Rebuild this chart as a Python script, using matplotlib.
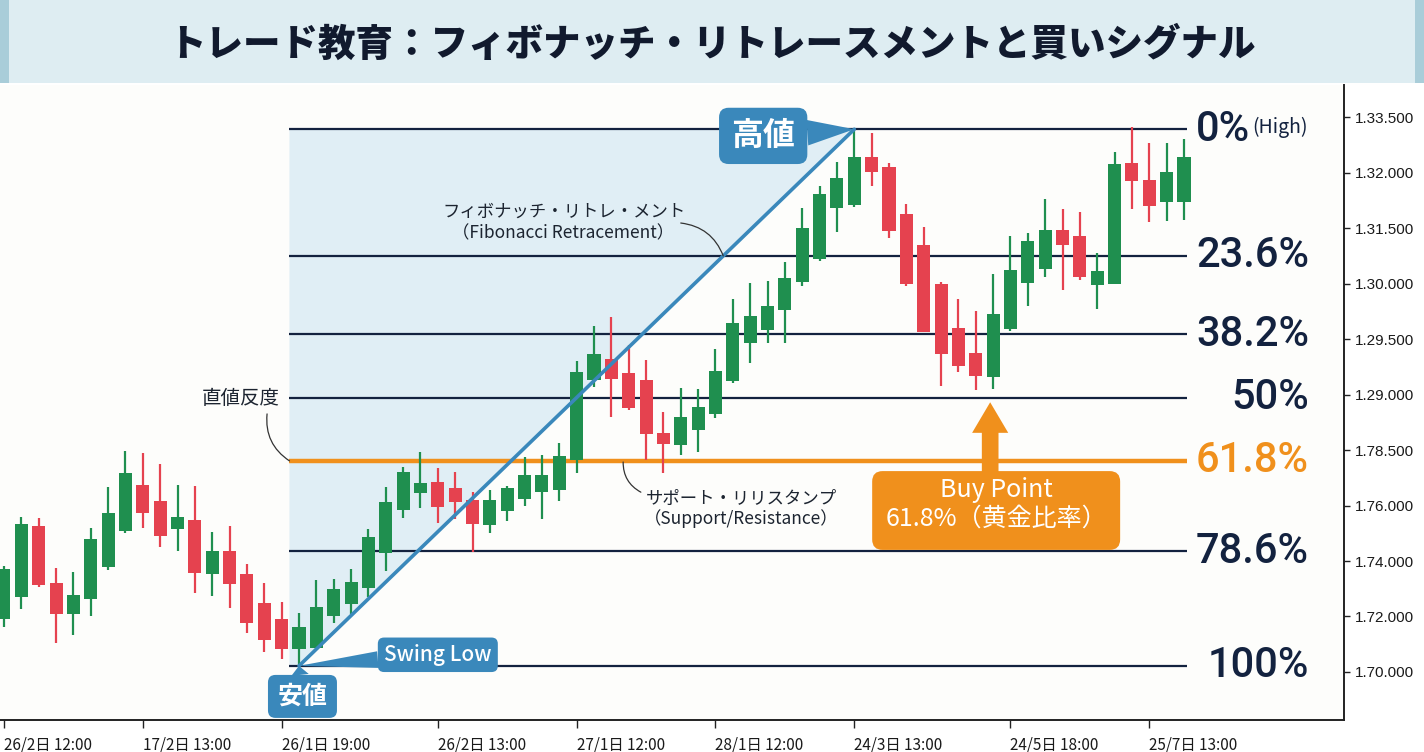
import numpy as np
import matplotlib
matplotlib.use("Agg")
import matplotlib.pyplot as plt
from matplotlib.patches import Polygon, Rectangle, FancyBboxPatch

plt.rcParams['font.family'] = ['Noto Sans CJK JP', 'DejaVu Sans']

# ---------------- data ----------------
title = "トレード教育：フィボナッチ・リトレースメントと買いシグナル"

opens = [0.96, 1.35, 2.63, 1.60, 1.05, 1.32, 1.89, 2.54, 3.37, 3.08,
         2.58, 2.74, 1.77, 2.18, 1.77, 1.24, 0.96, 0.41, 0.43, 1.01,
         1.23, 1.51, 2.14, 2.92, 3.23, 3.42, 3.32, 3.10, 2.65, 2.90,
         3.12, 3.24, 3.28, 3.82, 5.26, 5.64, 5.39, 5.26, 4.31, 4.09,
         4.36, 4.65, 5.24, 5.93, 6.16, 6.52, 7.03, 7.44, 8.36, 8.41,
         9.28, 9.10, 8.25, 7.69, 6.99, 6.20, 5.75, 5.32, 6.18, 7.01,
         7.26, 7.96, 7.86, 6.97, 6.99, 9.17, 8.87, 8.47, 8.47]
highs = [1.91, 2.79, 2.78, 1.87, 1.80, 2.60, 3.33, 3.98, 3.95, 3.75,
         3.37, 3.35, 2.52, 2.63, 1.95, 1.60, 1.26, 1.06, 1.66, 1.68,
         1.86, 2.58, 3.33, 3.69, 3.96, 3.68, 3.60, 3.24, 3.28, 3.35,
         3.87, 3.91, 4.13, 5.60, 6.23, 6.40, 5.89, 5.62, 4.69, 5.12,
         5.10, 5.82, 6.72, 7.01, 7.05, 7.39, 8.36, 8.76, 9.19, 9.78,
         9.71, 9.17, 8.43, 8.02, 7.03, 6.72, 6.51, 7.17, 7.86, 7.91,
         8.52, 8.34, 8.29, 7.55, 9.37, 9.82, 9.53, 9.53, 9.60]
lows = [0.81, 1.14, 1.53, 0.52, 0.67, 1.01, 1.84, 2.51, 2.60, 2.25,
        2.18, 1.42, 1.37, 1.15, 0.70, 0.36, 0.23, 0.11, 0.40, 0.88,
        1.05, 1.35, 1.82, 2.78, 2.96, 2.69, 2.76, 2.16, 2.51, 2.72,
        2.99, 2.76, 3.08, 3.59, 5.14, 4.60, 4.72, 3.82, 3.59, 3.91,
        3.96, 4.58, 5.21, 5.57, 5.93, 5.93, 6.96, 7.41, 7.93, 8.38,
        8.76, 7.82, 6.96, 6.13, 5.15, 5.41, 5.08, 5.10, 6.14, 6.60,
        7.12, 6.88, 7.06, 6.54, 6.99, 8.34, 8.11, 8.13, 8.14]
closes = [1.86, 2.67, 1.57, 1.05, 1.39, 2.40, 2.87, 3.59, 2.87, 2.45,
          2.79, 1.78, 2.18, 1.59, 0.88, 0.58, 0.41, 0.81, 1.17, 1.50,
          1.62, 2.43, 3.06, 3.60, 3.41, 2.97, 3.06, 2.67, 3.10, 3.32,
          3.55, 3.55, 3.89, 5.41, 5.73, 5.28, 4.76, 4.29, 4.11, 4.60,
          4.78, 5.42, 6.29, 6.41, 6.60, 7.10, 8.00, 8.61, 8.90, 9.28,
          9.01, 7.95, 6.99, 6.13, 5.73, 5.51, 5.33, 6.45, 7.24, 7.77,
          7.96, 7.69, 7.12, 7.23, 9.15, 8.85, 8.40, 9.01, 9.28]

swing_low_idx = 17
swing_high_idx = 49

ytick_labels = ["1.70.000", "1.72.000", "1.74.000", "1.76.000", "1.78.500",
                "1.29.000", "1.29.500", "1.30.000", "1.31.500", "1.32.000",
                "1.33.500"]
xtick_labels = ["26/2日 12:00", "17/2日 13:00", "26/1日 19:00", "26/2日 13:00",
                "27/1日 12:00", "28/1日 12:00", "24/3日 13:00", "24/5日 18:00",
                "25/7日 13:00"]
xtick_idx = [0, 8, 16, 25, 33, 41, 49, 58, 66]

fib_ratios = [0.0, 0.236, 0.382, 0.5, 0.618, 0.786, 1.0]
fib_labels = ["0%", "23.6%", "38.2%", "50%", "61.8%", "78.6%", "100%"]

# ---------------- styles ----------------
GREEN = "#1f8f4f"
RED = "#e5424f"
NAVY = "#13223f"
ORANGE = "#f0901c"
BLUE = "#3a88bb"
SHADE = "#e0eef5"

o = np.array(opens); h = np.array(highs); l = np.array(lows); c = np.array(closes)
x = np.arange(len(o))

fig = plt.figure(figsize=(14.24, 7.52), dpi=100)
fig.patch.set_facecolor("white")

# title band
fig.patches.append(Rectangle((0, 1 - 83 / 752), 1, 83 / 752, transform=fig.transFigure,
                             fc="#deedf2", ec="none", zorder=0))
fig.patches.append(Rectangle((0, 1 - 83 / 752), 9 / 1424, 83 / 752, transform=fig.transFigure,
                             fc="#a9cdd9", ec="none", zorder=0))
fig.patches.append(Rectangle((1 - 9 / 1424, 1 - 83 / 752), 9 / 1424, 83 / 752,
                             transform=fig.transFigure, fc="#a9cdd9", ec="none", zorder=0))
fig.text(0.5, 1 - 45 / 752, title, ha="center", va="center", fontsize=27,
         fontweight="heavy", color="#111a2e")

ax = fig.add_axes([0, 1 - 720 / 752, 1344 / 1424, (720 - 85) / 752])
ax.set_facecolor("#fdfdfb")
ax.set_xlim(-0.23, 77.22)
ax.set_ylim(-0.865, 10.577)

low = lows[swing_low_idx]
high = highs[swing_high_idx]
levels = [high - r * (high - low) for r in fib_ratios]
fx0 = swing_low_idx - 0.55
fx1 = len(o) - 1 + 0.2

# shaded retracement area above the swing line
ax.add_patch(Polygon([(fx0, low), (swing_low_idx, low), (swing_high_idx, high), (fx0, high)],
                     closed=True, fc=SHADE, ec="none", zorder=0.5))

# fib lines
for r, lv in zip(fib_ratios, levels):
    if r == 0.618:
        ax.hlines(lv, fx0, fx1, color=ORANGE, lw=3.2, zorder=1.5)
    else:
        ax.hlines(lv, fx0, fx1, color=NAVY, lw=1.6, zorder=1.5)

# candles
cols = np.where(c >= o, GREEN, RED)
ax.vlines(x, l, h, colors=cols, lw=1.6, zorder=3)
ax.bar(x, np.abs(c - o), bottom=np.minimum(o, c), width=0.75, color=cols, zorder=4)

# swing line
ax.plot([swing_low_idx, swing_high_idx], [low, high], color=BLUE, lw=2.6, zorder=5,
        solid_capstyle="round")

# fib labels
num_font = ["Roboto", "DejaVu Sans"]
for r, lv, lab in zip(fib_ratios, levels, fib_labels):
    col = ORANGE if r == 0.618 else NAVY
    if r == 0.0:
        ax.text(71.8, lv, lab, ha="right", va="center", fontsize=30, color=col,
                family=num_font, fontweight="medium")
        ax.text(71.95, lv + 0.03, "(High)", ha="left", va="center", fontsize=14, color=col)
    else:
        ax.text(75.2, lv, lab, ha="right", va="center", fontsize=30, color=col,
                family=num_font, fontweight="medium")

# label boxes
def label_box(text, xy, xytext, fs, weight, tw, pad):
    ax.annotate(text, xy=xy, xytext=xytext, ha="center", va="center", color="white",
                fontsize=fs, fontweight=weight, zorder=7,
                bbox=dict(boxstyle="round,pad=%s,rounding_size=0.3" % pad, fc=BLUE, ec="none"),
                arrowprops=dict(arrowstyle="wedge,tail_width=%s,shrink_factor=0.5" % tw,
                                fc=BLUE, ec="none", shrinkA=0, shrinkB=0))

label_box("高値", (swing_high_idx, high), (43.75, 9.66), 23, "bold", 0.8, 0.38)
label_box("安値", (swing_low_idx, low), (17.2, -0.44), 18, "bold", 0.7, 0.38)
label_box("Swing Low", (swing_low_idx, low), (25.0, 0.31), 15, "medium", 0.8, 0.3)

# fibonacci annotation
ax.text(32.3, 8.29, "フィボナッチ・リトレ・メント", ha="center", va="center", fontsize=12.5,
        color="#1c2430")
ax.text(32.2, 7.91, "（Fibonacci Retracement）", ha="center", va="center", fontsize=12.5,
        color="#1c2430")
cross_x = swing_low_idx + (levels[1] - low) / (high - low) * (swing_high_idx - swing_low_idx)
ax.annotate("", xy=(cross_x, levels[1]), xytext=(39.0, 8.09),
            arrowprops=dict(arrowstyle="-", color="#333", lw=0.9,
                            connectionstyle="arc3,rad=-0.3", shrinkA=0, shrinkB=0), zorder=6)

ax.text(13.66, 4.92, "直値反度", ha="center", va="center", fontsize=14, color="#1c2430")
ax.annotate("", xy=(fx0, levels[4]), xytext=(15.16, 4.65),
            arrowprops=dict(arrowstyle="-", color="#333", lw=0.9,
                            connectionstyle="arc3,rad=0.3", shrinkA=0, shrinkB=0), zorder=6)

ax.text(37.0, 3.12, "サポート・リリスタンプ", ha="left", va="center", fontsize=12.5,
        color="#1c2430")
ax.text(36.9, 2.76, "（Support/Resistance）", ha="left", va="center", fontsize=12.5,
        color="#1c2430")
ax.annotate("", xy=(35.68, levels[4] - 0.02), xytext=(36.7, 3.24),
            arrowprops=dict(arrowstyle="-", color="#333", lw=0.9,
                            connectionstyle="arc3,rad=-0.3", shrinkA=0, shrinkB=0), zorder=6)

# buy point box & arrow
ax.add_patch(FancyBboxPatch((50.03, 2.20), 14.29, 1.42,
                            boxstyle="round,pad=0,rounding_size=0.6",
                            mutation_aspect=0.3126, fc=ORANGE, ec="none", zorder=6))
ax.text(57.17, 3.28, "Buy Point", ha="center", va="center", fontsize=18, color="white",
        zorder=7)
ax.text(57.17, 2.77, "61.8%（黄金比率）", ha="center", va="center", fontsize=18,
        color="white", zorder=7)
ax.annotate("", xy=(56.83, 4.86), xytext=(56.83, 3.58),
            arrowprops=dict(arrowstyle="simple,head_width=1.3,head_length=1.1,tail_width=0.6",
                            mutation_scale=20, fc=ORANGE, ec="none", shrinkA=0, shrinkB=0),
            zorder=6)

# axes styling
for s in ["left", "top"]:
    ax.spines[s].set_visible(False)
for s in ["right", "bottom"]:
    ax.spines[s].set_color("#222")
    ax.spines[s].set_linewidth(1.4)

ax.yaxis.tick_right()
ax.set_yticks(np.arange(len(ytick_labels)))
ax.set_yticklabels(ytick_labels, fontsize=11, family=["Liberation Sans", "DejaVu Sans"],
                   color="#1a1a1a")
ax.tick_params(axis="y", length=4, width=1, color="#222", pad=4)

ax.set_xticks(xtick_idx)
ax.set_xticklabels(xtick_labels, fontsize=11, color="#1a1a1a", ha="left")
ax.tick_params(axis="x", length=6, width=1, color="#222", pad=6)

fig.savefig("out.png", dpi=100, facecolor="white")
